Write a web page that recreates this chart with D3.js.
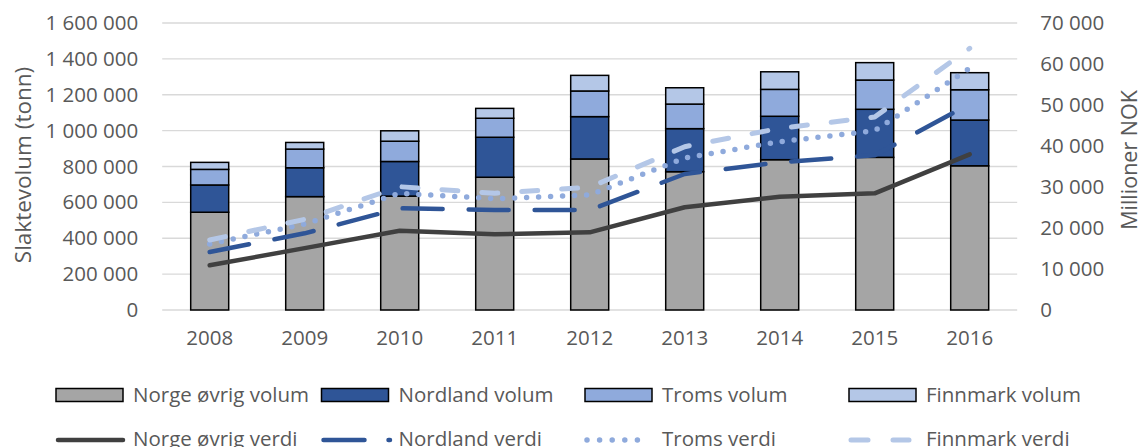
<!DOCTYPE html>
<html>
<head>
<meta charset="utf-8">
<script src="https://cdn.jsdelivr.net/npm/d3@7"></script>
<style>
  body { margin: 0; background: #fff; }
  text { font-family: "Open Sans", sans-serif; fill: #595959; }
  .grid line { stroke: #d9d9d9; stroke-width: 1.3; }
  .axis path, .axis line { display: none; }
</style>
</head>
<body>
<svg id="chart" width="1142" height="447"></svg>
<script>
// categories
var years = ['2008', '2009', '2010', '2011', '2012', '2013', '2014', '2015', '2016'];

// slaughter volume (tonn), stacked bars
var norgeVolum    = [545000, 632000, 635000, 740000, 842000, 771000, 838000, 851000, 804000];
var nordlandVolum = [152000, 161000, 193000, 223000, 236000, 240000, 242000, 268000, 255000];
var tromsVolum    = [ 87000, 104000, 113000, 106000, 143000, 137000, 150000, 163000, 169000];
var finnmarkVolum = [ 39000,  37000,  58000,  55000,  87000,  91000,  98000,  97000,  95000];

// value (millioner NOK), stacked lines
var norgeVerdi    = [10900, 15100, 19350, 18460, 18950, 25050, 27640, 28460, 37970];
var nordlandVerdi = [ 3250,  3600,  5450,  5930,  5440,  8120,  8380,  9270, 12270];
var tromsVerdi    = [ 1950,  2275,  3660,  2760,  3660,  3900,  5030,  6000,  8710];
var finnmarkVerdi = [  970,  1145,  1610,  1310,  1880,  2760,  3270,  3340,  4880];

var leftTicks = [0, 200000, 400000, 600000, 800000, 1000000, 1200000, 1400000, 1600000];
var rightTicks = [0, 10000, 20000, 30000, 40000, 50000, 60000, 70000];

var volumKeys = ['Norge øvrig volum', 'Nordland volum', 'Troms volum', 'Finnmark volum'];
var verdiKeys = ['Norge øvrig verdi', 'Nordland verdi', 'Troms verdi', 'Finnmark verdi'];

var svg = d3.select('#chart');
var plot = { left: 162.2, right: 1017.2, top: 23, bottom: 310 };

var fmt = d3.formatLocale({ decimal: ',', thousands: ' ', grouping: [3], currency: ['', ''] }).format(',');

var x = d3.scaleBand().domain(years).range([plot.left, plot.right])
    .paddingInner(0.6).paddingOuter(0.3);
var yL = d3.scaleLinear().domain([0, 1600000]).range([plot.bottom, plot.top]);
var yR = d3.scaleLinear().domain([0, 70000]).range([plot.bottom, plot.top]);

var barColors = ['#a5a5a5', '#2f5597', '#8faadc', '#b4c7e7'];
var lineStyles = [
    { color: '#404040', width: 4.5, dash: null,    legendDash: null,    legendLen: 67 },
    { color: '#2f5597', width: 4.5, dash: '40 26', legendDash: '41 24', legendLen: 68.5 },
    { color: '#8faadc', width: 5.5, dash: '0 12',  legendDash: '0 12.6', legendLen: 64 },
    { color: '#b4c7e7', width: 5,   dash: '16 24', legendDash: '17 25', legendLen: 60 }
];

var volumRows = years.map(function(y, i) {
    var r = { year: y };
    r[volumKeys[0]] = norgeVolum[i];
    r[volumKeys[1]] = nordlandVolum[i];
    r[volumKeys[2]] = tromsVolum[i];
    r[volumKeys[3]] = finnmarkVolum[i];
    return r;
});
var verdiRows = years.map(function(y, i) {
    var r = { year: y };
    r[verdiKeys[0]] = norgeVerdi[i];
    r[verdiKeys[1]] = nordlandVerdi[i];
    r[verdiKeys[2]] = tromsVerdi[i];
    r[verdiKeys[3]] = finnmarkVerdi[i];
    return r;
});

var volumStack = d3.stack().keys(volumKeys)(volumRows);
var verdiStack = d3.stack().keys(verdiKeys)(verdiRows);

// gridlines
svg.append('g').attr('class', 'grid')
    .selectAll('line').data(leftTicks)
    .enter().append('line')
    .attr('x1', plot.left).attr('x2', plot.right)
    .attr('y1', function(d) { return yL(d); })
    .attr('y2', function(d) { return yL(d); });

// left axis
svg.append('g').attr('class', 'axis')
    .attr('transform', 'translate(' + plot.left + ',0)')
    .call(d3.axisLeft(yL).tickValues(leftTicks).tickSize(0).tickPadding(24).tickFormat(fmt))
    .selectAll('text').style('font-size', '20.5px').attr('fill', '#595959');

// right axis
svg.append('g').attr('class', 'axis')
    .attr('transform', 'translate(' + plot.right + ',0)')
    .call(d3.axisRight(yR).tickValues(rightTicks).tickSize(0).tickPadding(23).tickFormat(fmt))
    .selectAll('text').style('font-size', '20.5px').attr('fill', '#595959');

// x axis
svg.append('g').attr('class', 'axis')
    .attr('transform', 'translate(0,' + plot.bottom + ')')
    .call(d3.axisBottom(x).tickSize(0).tickPadding(20))
    .selectAll('text').style('font-size', '20.5px').attr('fill', '#595959');

// axis titles
svg.append('text')
    .attr('transform', 'translate(23,165) rotate(-90)')
    .attr('text-anchor', 'middle').attr('dy', '0.35em')
    .style('font-size', '22.5px')
    .text('Slaktevolum (tonn)');
svg.append('text')
    .attr('transform', 'translate(1129,160) rotate(-90)')
    .attr('text-anchor', 'middle').attr('dy', '0.35em')
    .style('font-size', '21.5px')
    .text('Millioner NOK');

// stacked bars
var layers = svg.append('g').selectAll('g').data(volumStack)
    .enter().append('g')
    .attr('fill', function(d, i) { return barColors[i]; });
layers.selectAll('rect').data(function(d) { return d; })
    .enter().append('rect')
    .attr('x', function(d) { return x(d.data.year); })
    .attr('width', x.bandwidth())
    .attr('y', function(d) { return yL(d[1]); })
    .attr('height', function(d) { return yL(d[0]) - yL(d[1]); })
    .attr('stroke', '#000')
    .attr('stroke-width', 1.5);

// stacked value lines
var line = d3.line()
    .x(function(d) { return x(d.data.year) + x.bandwidth() / 2; })
    .y(function(d) { return yR(d[1]); });

svg.append('g').selectAll('path').data(verdiStack)
    .enter().append('path')
    .attr('d', line)
    .attr('fill', 'none')
    .attr('stroke', function(d, i) { return lineStyles[i].color; })
    .attr('stroke-width', function(d, i) { return lineStyles[i].width; })
    .attr('stroke-dasharray', function(d, i) { return lineStyles[i].dash; })
    .attr('stroke-linecap', 'round')
    .attr('stroke-linejoin', 'round');

// legend
var legendX = [56, 321.5, 585, 849];
var legend = svg.append('g');

var volItems = legend.selectAll('.vol').data(volumKeys)
    .enter().append('g').attr('class', 'vol');
volItems.append('rect')
    .attr('x', function(d, i) { return legendX[i]; })
    .attr('y', 388.5)
    .attr('width', 67)
    .attr('height', 13)
    .attr('fill', function(d, i) { return barColors[i]; })
    .attr('stroke', '#000')
    .attr('stroke-width', 1.5);
volItems.append('text')
    .attr('x', function(d, i) { return legendX[i] + 77; })
    .attr('y', 401.5)
    .style('font-size', '20.5px')
    .text(function(d) { return d; });

var verdiItems = legend.selectAll('.verdi').data(verdiKeys)
    .enter().append('g').attr('class', 'verdi');
verdiItems.append('line')
    .attr('x1', function(d, i) { return legendX[i] + 2; })
    .attr('x2', function(d, i) { return legendX[i] + lineStyles[i].legendLen; })
    .attr('y1', 440).attr('y2', 440)
    .attr('stroke', function(d, i) { return lineStyles[i].color; })
    .attr('stroke-width', function(d, i) { return lineStyles[i].width; })
    .attr('stroke-dasharray', function(d, i) { return lineStyles[i].legendDash; })
    .attr('stroke-linecap', 'round');
verdiItems.append('text')
    .attr('x', function(d, i) { return legendX[i] + 77; })
    .attr('y', 445.5)
    .style('font-size', '20.5px')
    .text(function(d) { return d; });
</script>
</body>
</html>
